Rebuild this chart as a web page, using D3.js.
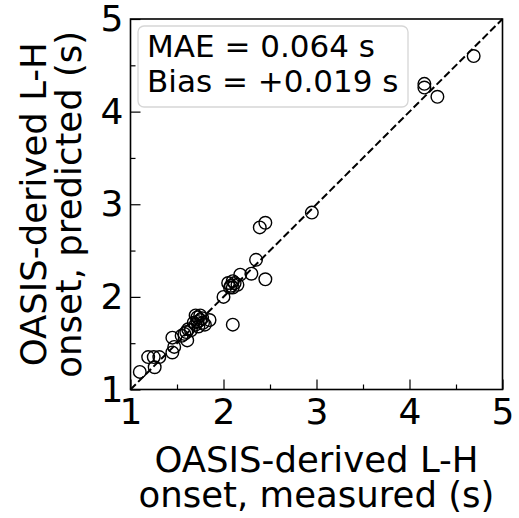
<!DOCTYPE html>
<html>
<head>
<meta charset="utf-8">
<script src="https://cdn.jsdelivr.net/npm/d3@7"></script>
<style>
  body { margin: 0; background: #fff; }
  svg { display: block; font-family: "DejaVu Sans", sans-serif; }
</style>
</head>
<body>
<svg id="chart" width="519" height="518"></svg>
<script>
// measured vs predicted L-H onset (s)
var measured = [1.10, 1.19, 1.25, 1.31, 1.26, 1.45, 1.47, 1.45, 1.55, 1.58,
                1.60, 1.62, 1.65, 1.61, 1.68, 1.70, 1.70, 1.72, 1.72, 1.73,
                1.75, 1.75, 1.77, 1.78, 1.80, 1.85, 2.00, 2.10, 2.05, 2.07,
                2.08, 2.10, 2.12, 2.10, 2.15, 2.18, 2.30, 2.35, 2.45, 2.39,
                2.45, 2.95, 4.16, 4.16, 4.30, 4.69]
var predicted = [1.19, 1.35, 1.35, 1.35, 1.24, 1.56, 1.46, 1.40, 1.58, 1.60,
                 1.62, 1.65, 1.64, 1.53, 1.72, 1.70, 1.80, 1.78, 1.73, 1.68,
                 1.75, 1.80, 1.77, 1.72, 1.70, 1.75, 2.00, 1.70, 2.15, 2.10,
                 2.12, 2.10, 2.15, 2.17, 2.13, 2.24, 2.25, 2.40, 2.19, 2.75,
                 2.80, 2.91, 4.30, 4.26, 4.16, 4.60]
var majorTicks = [1, 2, 3, 4, 5]
var minorTicks = [1.5, 2.5, 3.5, 4.5]
var statLines = ["MAE = 0.064 s", "Bias = +0.019 s"]
var xLabel = ["OASIS-derived L-H", "onset, measured (s)"]
var yLabel = ["OASIS-derived L-H", "onset, predicted (s)"]

var svg = d3.select("#chart")
var plot = {left: 130.5, right: 502.5, top: 19, bottom: 389.5}

var x = d3.scaleLinear().domain([1, 5]).range([plot.left, plot.right])
var y = d3.scaleLinear().domain([1, 5]).range([plot.bottom, plot.top])

// 1:1 line
svg.append("line")
    .attr("x1", x(1)).attr("y1", y(1))
    .attr("x2", x(5)).attr("y2", y(5))
    .attr("stroke", "#000")
    .attr("stroke-width", 2)
    .attr("stroke-dasharray", "7.5,3.3")

// points
svg.append("g").selectAll("circle")
    .data(measured)
    .enter().append("circle")
    .attr("cx", function(d) { return x(d) })
    .attr("cy", function(d, i) { return y(predicted[i]) })
    .attr("r", 6.3)
    .attr("fill", "none")
    .attr("stroke", "#000")
    .attr("stroke-width", 1.4)

// axes, ticks pointing inward
svg.append("g")
    .attr("transform", "translate(0," + plot.bottom + ")")
    .call(d3.axisBottom(x).tickValues(majorTicks).tickSize(-10).tickPadding(9).tickFormat(d3.format("d")))
svg.append("g")
    .attr("transform", "translate(0," + plot.bottom + ")")
    .call(d3.axisBottom(x).tickValues(minorTicks).tickSize(-5).tickFormat(""))
svg.append("g")
    .attr("transform", "translate(" + plot.left + ",0)")
    .call(d3.axisLeft(y).tickValues(majorTicks).tickSize(-10).tickPadding(7).tickFormat(d3.format("d")))
svg.append("g")
    .attr("transform", "translate(" + plot.left + ",0)")
    .call(d3.axisLeft(y).tickValues(minorTicks).tickSize(-5).tickFormat(""))

svg.selectAll(".domain").remove()
svg.selectAll(".tick line").attr("stroke", "#000").attr("stroke-width", 1.2)
svg.selectAll(".tick text")
    .attr("font-family", "DejaVu Sans")
    .attr("font-size", 36)
    .attr("fill", "#000")

// frame
svg.append("rect")
    .attr("x", plot.left).attr("y", plot.top)
    .attr("width", plot.right - plot.left).attr("height", plot.bottom - plot.top)
    .attr("fill", "none")
    .attr("stroke", "#000")
    .attr("stroke-width", 1.6)

// stats box
svg.append("rect")
    .attr("x", 138).attr("y", 26)
    .attr("width", 270).attr("height", 81)
    .attr("rx", 6)
    .attr("fill", "#fff").attr("fill-opacity", 0.8)
    .attr("stroke", "#d6d6d6")
    .attr("stroke-width", 1.3)
svg.append("g").selectAll("text")
    .data(statLines)
    .enter().append("text")
    .attr("x", 147)
    .attr("y", function(d, i) { return 57 + i * 35 })
    .attr("font-size", 31)
    .text(function(d) { return d })

// axis titles
svg.append("g").selectAll("text")
    .data(xLabel)
    .enter().append("text")
    .attr("x", (plot.left + plot.right) / 2)
    .attr("y", function(d, i) { return 472 + i * 35 })
    .attr("text-anchor", "middle")
    .attr("font-size", 35.5)
    .text(function(d) { return d })

svg.append("g")
    .attr("transform", "translate(0," + ((plot.top + plot.bottom) / 2) + ") rotate(-90)")
    .selectAll("text")
    .data(yLabel)
    .enter().append("text")
    .attr("x", 0)
    .attr("y", function(d, i) { return 46 + i * 35 })
    .attr("text-anchor", "middle")
    .attr("font-size", 35.5)
    .text(function(d) { return d })
</script>
</body>
</html>
